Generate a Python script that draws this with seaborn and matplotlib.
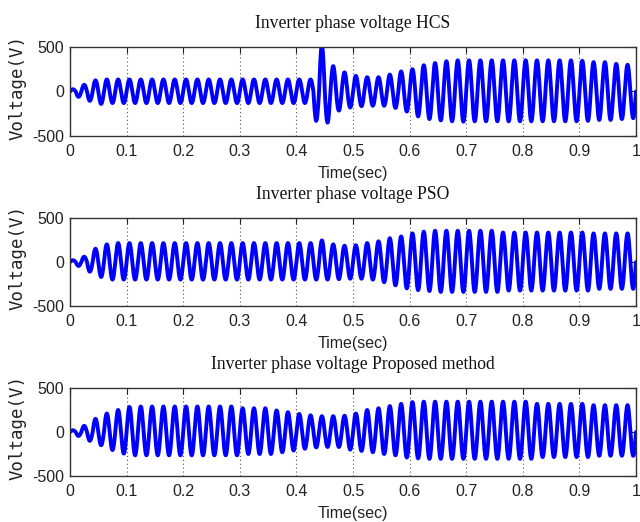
import numpy as np
import pandas as pd
import matplotlib
matplotlib.use("Agg")
import matplotlib.pyplot as plt
import seaborn as sns

# ---- data (per 20 ms cycle: positive peak, negative trough) ----
freq_hz = 50
titles = ["Inverter phase voltage HCS",
          "Inverter phase voltage PSO",
          "Inverter phase voltage Proposed method"]
x_ticks = [0, 0.1, 0.2, 0.3, 0.4, 0.5, 0.6, 0.7, 0.8, 0.9, 1]
x_tick_labels = ["0", "0.1", "0.2", "0.3", "0.4", "0.5", "0.6", "0.7", "0.8", "0.9", "1"]
y_ticks = [-500, 0, 500]

hcs_pos = [25, 75, 125, 135, 135, 135, 135, 135, 135, 135,
           135, 135, 135, 135, 135, 135, 135, 135, 135, 135,
           135, 135, 520, 285, 215, 175, 160, 160, 190, 225,
           250, 295, 320, 340, 350, 350, 350, 350, 350, 350,
           350, 350, 350, 350, 350, 345, 330, 330, 310, 300]
hcs_neg = [60, 105, 140, 130, 130, 130, 130, 130, 130, 130,
           130, 130, 130, 130, 130, 130, 130, 130, 130, 130,
           130, 330, 350, 215, 180, 165, 160, 160, 185, 225,
           280, 310, 325, 335, 340, 335, 335, 335, 335, 335,
           335, 335, 335, 335, 335, 330, 320, 320, 310, 300]

pso_pos = [20, 60, 150, 200, 215, 215, 215, 215, 215, 215,
           215, 215, 215, 215, 215, 215, 215, 215, 215, 215,
           215, 215, 245, 200, 185, 190, 215, 235, 270, 290,
           325, 345, 355, 355, 355, 355, 355, 355, 335, 335,
           335, 335, 335, 335, 335, 335, 325, 325, 325, 325]
pso_neg = [45, 110, 170, 200, 200, 200, 200, 200, 200, 200,
           200, 200, 200, 200, 200, 200, 200, 200, 200, 200,
           200, 200, 200, 195, 190, 190, 200, 230, 265, 300,
           320, 330, 340, 340, 340, 340, 340, 340, 325, 325,
           325, 325, 325, 325, 325, 325, 305, 305, 305, 305]

prop_pos = [20, 70, 150, 210, 250, 285, 290, 290, 290, 290,
            290, 290, 290, 290, 290, 270, 270, 270, 245, 225,
            205, 190, 180, 180, 185, 210, 250, 270, 295, 320,
            340, 345, 345, 345, 345, 345, 345, 345, 345, 345,
            345, 320, 320, 320, 320, 320, 305, 305, 305, 305]
prop_neg = [45, 100, 150, 205, 245, 265, 265, 265, 265, 265,
            265, 265, 265, 265, 265, 250, 250, 250, 230, 210,
            190, 175, 170, 170, 200, 215, 230, 250, 265, 290,
            300, 305, 305, 305, 305, 305, 305, 305, 305, 305,
            305, 285, 285, 285, 285, 285, 270, 270, 270, 270]

series = [(hcs_pos, hcs_neg), (pso_pos, pso_neg), (prop_pos, prop_neg)]

# ---- figure ----
sns.set_style("white")
plt.rcParams["font.family"] = ["Liberation Sans", "DejaVu Sans"]
plt.rcParams["axes.unicode_minus"] = False

fig = plt.figure(figsize=(6.4, 5.22), dpi=100)
positions = [[0.1094, 0.7395, 0.8844, 0.1705],
             [0.1094, 0.4138, 0.8844, 0.1686],
             [0.1094, 0.0881, 0.8844, 0.1686]]

t = np.linspace(0, 1, 6001)
carrier = np.sin(2 * np.pi * freq_hz * t)
cycle = np.minimum((t * freq_hz).astype(int), 49)

for pos, title, (ppk, npk) in zip(positions, titles, series):
    ax = fig.add_axes(pos)
    ppk = np.asarray(ppk, float)
    npk = np.asarray(npk, float)
    v = np.where(carrier >= 0, ppk[cycle] * carrier, npk[cycle] * carrier)
    df = pd.DataFrame({"Time": t, "Voltage": v})
    sns.lineplot(data=df, x="Time", y="Voltage", ax=ax, color="#0000ff",
                 linewidth=2.8, estimator=None, sort=False)
    ax.set_xlim(0, 1)
    ax.set_ylim(-500, 500)
    ax.set_xticks(x_ticks)
    ax.set_xticklabels(x_tick_labels)
    ax.set_yticks(y_ticks)
    ax.tick_params(axis="both", direction="in", length=4, width=0.8,
                   top=True, right=True, labelsize=11.5, colors="#222222")
    ax.tick_params(axis="x", pad=6)
    ax.tick_params(axis="y", pad=4)
    ax.grid(axis="x", linestyle=(0, (1, 2.5)), color="#555555", linewidth=0.8)
    ax.grid(axis="y", visible=False)
    ax.set_axisbelow(True)
    for sp in ax.spines.values():
        sp.set_color("#333333")
        sp.set_linewidth(1.0)
    ax.set_xlabel("Time(sec)", fontsize=11.5, labelpad=5, color="#222222")
    ax.set_ylabel("Voltage(V)", fontsize=12.5, family=["DejaVu Sans Mono"],
                  labelpad=1, color="#222222")
    ax.yaxis.set_label_coords(-0.077, 0.55)
    ax.set_title(title, fontsize=12.7, family=["Liberation Serif"], pad=14,
                 color="#111111")

fig.savefig("out.png", dpi=100)
